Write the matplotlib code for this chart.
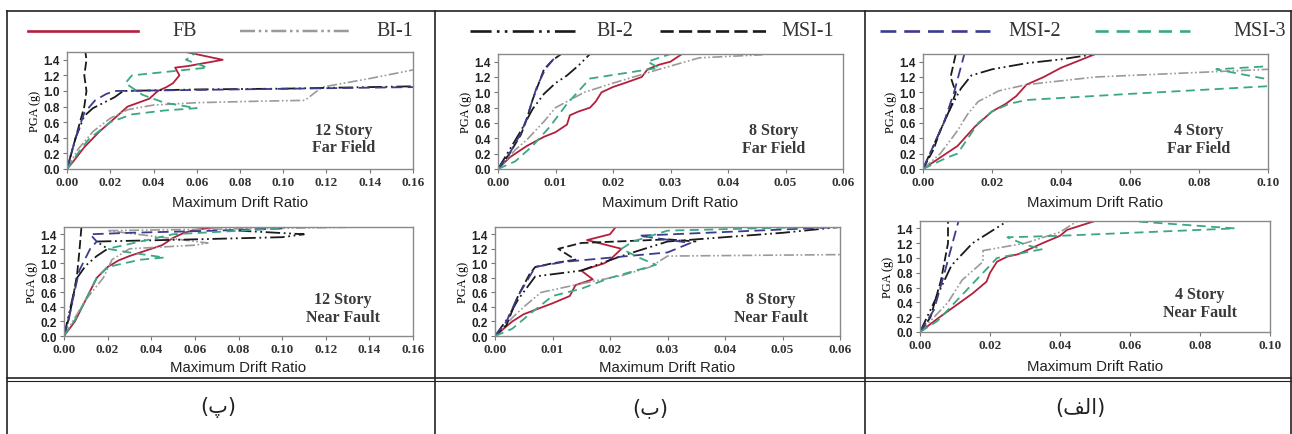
import matplotlib
matplotlib.use("Agg")
import matplotlib.pyplot as plt
from matplotlib.lines import Line2D

# series order and legend labels
series = ["FB", "BI-1", "BI-2", "MSI-1", "MSI-2", "MSI-3"]
pga_ticks = [0.0, 0.2, 0.4, 0.6, 0.8, 1.0, 1.2, 1.4]

# ---- 12 story, far field (drift, PGA) ----
ff12 = {
    "FB": ([0, 0.003, 0.008, 0.015, 0.022, 0.028, 0.033, 0.038, 0.042, 0.046, 0.049, 0.052, 0.05, 0.056, 0.072, 0.055],
           [0, 0.1, 0.28, 0.48, 0.65, 0.8, 0.85, 0.9, 1.0, 1.05, 1.1, 1.2, 1.3, 1.32, 1.4, 1.5]),
    "BI-1": ([0, 0.005, 0.012, 0.02, 0.028, 0.04, 0.06, 0.09, 0.11, 0.118, 0.14, 0.16],
             [0, 0.25, 0.48, 0.65, 0.76, 0.82, 0.85, 0.87, 0.88, 1.05, 1.16, 1.27]),
    "BI-2": ([0, 0.004, 0.008, 0.012, 0.017, 0.022, 0.026, 0.06, 0.1, 0.16],
             [0, 0.4, 0.68, 0.78, 0.85, 0.92, 1.0, 1.02, 1.03, 1.06]),
    "MSI-1": ([0, 0.004, 0.006, 0.008, 0.009, 0.008, 0.0085, 0.009, 0.0085],
              [0, 0.4, 0.6, 0.8, 1.0, 1.2, 1.3, 1.4, 1.5]),
    "MSI-2": ([0, 0.004, 0.008, 0.013, 0.018, 0.022, 0.16],
              [0, 0.4, 0.72, 0.88, 0.96, 1.0, 1.05]),
    "MSI-3": ([0, 0.005, 0.01, 0.02, 0.03, 0.045, 0.06, 0.045, 0.035, 0.027, 0.03, 0.065, 0.055, 0.06],
              [0, 0.2, 0.38, 0.6, 0.7, 0.75, 0.78, 0.85, 0.95, 1.1, 1.2, 1.3, 1.4, 1.5]),
}

# ---- 8 story, far field ----
ff8 = {
    "FB": ([0, 0.002, 0.005, 0.008, 0.01, 0.012, 0.0125, 0.014, 0.016, 0.017, 0.018, 0.02, 0.022, 0.025, 0.026, 0.028, 0.03, 0.032],
           [0, 0.15, 0.3, 0.42, 0.48, 0.58, 0.7, 0.75, 0.8, 0.88, 1.0, 1.07, 1.12, 1.2, 1.3, 1.36, 1.4, 1.5]),
    "BI-1": ([0, 0.003, 0.005, 0.008, 0.01, 0.015, 0.02, 0.028, 0.035, 0.046],
             [0, 0.25, 0.38, 0.62, 0.8, 1.0, 1.12, 1.3, 1.45, 1.49]),
    "BI-2": ([0, 0.002, 0.004, 0.006, 0.008, 0.01, 0.012, 0.014, 0.016],
             [0, 0.25, 0.5, 0.78, 0.98, 1.12, 1.22, 1.35, 1.5]),
    "MSI-1": ([0, 0.002, 0.004, 0.005, 0.006, 0.007, 0.008, 0.0095, 0.011],
              [0, 0.2, 0.45, 0.65, 0.9, 1.1, 1.3, 1.42, 1.5]),
    "MSI-2": ([0, 0.002, 0.004, 0.005, 0.006, 0.0068, 0.0082, 0.0095, 0.0105],
              [0, 0.2, 0.47, 0.66, 0.9, 1.08, 1.3, 1.42, 1.5]),
    "MSI-3": ([0, 0.003, 0.006, 0.009, 0.012, 0.016, 0.022, 0.028, 0.026, 0.03],
              [0, 0.1, 0.3, 0.55, 0.85, 1.18, 1.25, 1.32, 1.4, 1.5]),
}

# ---- 4 story, far field ----
ff4 = {
    "FB": ([0, 0.005, 0.01, 0.015, 0.02, 0.024, 0.027, 0.03, 0.035, 0.04, 0.045, 0.05],
           [0, 0.15, 0.3, 0.55, 0.75, 0.85, 0.95, 1.1, 1.2, 1.32, 1.41, 1.5]),
    "BI-1": ([0, 0.005, 0.01, 0.013, 0.016, 0.022, 0.03, 0.05, 0.07, 0.085, 0.1],
             [0, 0.2, 0.5, 0.72, 0.88, 1.02, 1.1, 1.2, 1.24, 1.27, 1.3]),
    "BI-2": ([0, 0.004, 0.008, 0.011, 0.014, 0.02, 0.03, 0.04, 0.05],
             [0, 0.4, 0.8, 1.05, 1.22, 1.3, 1.38, 1.43, 1.5]),
    "MSI-1": ([0, 0.003, 0.005, 0.008, 0.0095, 0.008, 0.009, 0.0095],
              [0, 0.25, 0.5, 0.8, 1.0, 1.2, 1.4, 1.5]),
    "MSI-2": ([0, 0.003, 0.006, 0.009, 0.0105, 0.012],
              [0, 0.3, 0.6, 1.0, 1.25, 1.5]),
    "MSI-3": ([0, 0.007, 0.01, 0.013, 0.016, 0.02, 0.025, 0.03, 0.06, 0.1, 0.2, 0.1, 0.085, 0.1],
              [0, 0.15, 0.2, 0.4, 0.6, 0.75, 0.85, 0.9, 0.98, 1.08, 1.15, 1.17, 1.3, 1.34]),
}

# ---- 12 story, near fault ----
nf12 = {
    "FB": ([0, 0.005, 0.01, 0.015, 0.02, 0.025, 0.03, 0.038, 0.045, 0.05, 0.055, 0.06, 0.07],
           [0, 0.2, 0.5, 0.8, 0.95, 1.04, 1.1, 1.18, 1.25, 1.35, 1.42, 1.46, 1.5]),
    "BI-1": ([0, 0.005, 0.01, 0.018, 0.022, 0.03, 0.06, 0.066, 0.02, 0.14],
             [0, 0.25, 0.5, 0.8, 1.05, 1.2, 1.25, 1.28, 1.45, 1.5]),
    "BI-2": ([0, 0.003, 0.006, 0.01, 0.015, 0.02, 0.015, 0.06, 0.1, 0.11, 0.08],
             [0, 0.4, 0.8, 0.97, 1.1, 1.2, 1.3, 1.33, 1.36, 1.4, 1.45]),
    "MSI-1": ([0, 0.002, 0.004, 0.006, 0.007, 0.008],
              [0, 0.22, 0.5, 0.85, 1.15, 1.5]),
    "MSI-2": ([0, 0.002, 0.004, 0.007, 0.01, 0.012, 0.015, 0.012, 0.03, 0.07, 0.1],
              [0, 0.2, 0.5, 0.9, 1.08, 1.2, 1.3, 1.4, 1.42, 1.45, 1.48]),
    "MSI-3": ([0, 0.005, 0.01, 0.015, 0.02, 0.035, 0.046, 0.03, 0.02, 0.05, 0.1],
              [0, 0.22, 0.5, 0.8, 0.95, 1.05, 1.08, 1.15, 1.2, 1.4, 1.48]),
}

# ---- 8 story, near fault ----
nf8 = {
    "FB": ([0, 0.003, 0.005, 0.008, 0.01, 0.013, 0.014, 0.017, 0.015, 0.019, 0.02, 0.022, 0.016, 0.02, 0.021],
           [0, 0.2, 0.3, 0.39, 0.45, 0.55, 0.7, 0.78, 0.9, 1.0, 1.05, 1.2, 1.32, 1.4, 1.5]),
    "BI-1": ([0, 0.003, 0.005, 0.008, 0.015, 0.022, 0.027, 0.028, 0.03, 0.06],
             [0, 0.25, 0.4, 0.6, 0.72, 0.83, 0.95, 1.0, 1.1, 1.12]),
    "BI-2": ([0, 0.002, 0.004, 0.007, 0.015, 0.022, 0.03, 0.05, 0.06],
             [0, 0.22, 0.5, 0.82, 0.9, 1.1, 1.3, 1.42, 1.5]),
    "MSI-1": ([0, 0.002, 0.004, 0.006, 0.007, 0.01, 0.014, 0.011, 0.015, 0.03, 0.035],
              [0, 0.15, 0.55, 0.85, 0.95, 1.0, 1.05, 1.2, 1.28, 1.33, 1.3]),
    "MSI-2": ([0, 0.002, 0.004, 0.007, 0.012, 0.03, 0.034, 0.025, 0.06],
              [0, 0.2, 0.55, 0.95, 1.02, 1.15, 1.28, 1.38, 1.5]),
    "MSI-3": ([0, 0.003, 0.006, 0.01, 0.015, 0.02, 0.028, 0.025, 0.022, 0.024, 0.03, 0.055],
              [0, 0.1, 0.3, 0.55, 0.65, 0.8, 0.98, 1.08, 1.2, 1.3, 1.45, 1.5]),
}

# ---- 4 story, near fault ----
nf4 = {
    "FB": ([0, 0.005, 0.01, 0.015, 0.017, 0.019, 0.02, 0.022, 0.025, 0.028, 0.035, 0.04, 0.042, 0.05],
           [0, 0.18, 0.35, 0.52, 0.6, 0.68, 0.8, 0.95, 1.02, 1.05, 1.2, 1.3, 1.38, 1.5]),
    "BI-1": ([0, 0.004, 0.008, 0.012, 0.018, 0.018, 0.03, 0.04, 0.045],
             [0, 0.2, 0.4, 0.7, 0.95, 1.1, 1.2, 1.35, 1.5]),
    "BI-2": ([0, 0.003, 0.005, 0.009, 0.015, 0.02, 0.025],
             [0, 0.3, 0.5, 0.9, 1.2, 1.35, 1.5]),
    "MSI-1": ([0, 0.003, 0.006, 0.008, 0.008],
              [0, 0.2, 0.7, 1.2, 1.5]),
    "MSI-2": ([0, 0.004, 0.007, 0.009, 0.011],
              [0, 0.3, 0.8, 1.15, 1.5]),
    "MSI-3": ([0, 0.005, 0.01, 0.018, 0.022, 0.035, 0.03, 0.025, 0.04, 0.09, 0.06],
              [0, 0.15, 0.4, 0.8, 1.0, 1.12, 1.18, 1.28, 1.3, 1.4, 1.5]),
}

styles = {
    "FB": dict(color="#b3203c", linestyle="-", lw=1.3),
    "BI-1": dict(color="#9a9a9a", linestyle=(0, (6, 1.5, 1, 1.5, 1, 1.5)), lw=1.2),
    "BI-2": dict(color="#1a1a1a", linestyle=(0, (8, 2, 1, 2, 1, 2)), lw=1.3),
    "MSI-1": dict(color="#1a1a1a", linestyle=(0, (5, 2)), lw=1.3),
    "MSI-2": dict(color="#3c3c8c", linestyle=(0, (6, 3)), lw=1.3),
    "MSI-3": dict(color="#3aa882", linestyle=(0, (5, 3)), lw=1.3),
}

W, H = 1292, 435
fig = plt.figure(figsize=(W / 100, H / 100), dpi=100)


def px_axes(x0, x1, y0, y1):
    return fig.add_axes([x0 / W, 1 - y1 / H, (x1 - x0) / W, (y1 - y0) / H])


panels = [
    (ff12, (67, 413, 53, 170), 0.16, [0, 0.02, 0.04, 0.06, 0.08, 0.10, 0.12, 0.14, 0.16], "12 Story\nFar Field", 5),
    (ff8, (498, 843, 55, 170), 0.06, [0, 0.01, 0.02, 0.03, 0.04, 0.05, 0.06], "8 Story\nFar Field", 5),
    (ff4, (923, 1268, 55, 170), 0.10, [0, 0.02, 0.04, 0.06, 0.08, 0.10], "4 Story\nFar Field", 5),
    (nf12, (64, 413, 228, 337), 0.16, [0, 0.02, 0.04, 0.06, 0.08, 0.10, 0.12, 0.14, 0.16], "12 Story\nNear Fault", 4),
    (nf8, (495, 840, 228, 337), 0.06, [0, 0.01, 0.02, 0.03, 0.04, 0.05, 0.06], "8 Story\nNear Fault", 4),
    (nf4, (920, 1270, 222, 333), 0.10, [0, 0.02, 0.04, 0.06, 0.08, 0.10], "4 Story\nNear Fault", 6),
]

for data, box, xmax, xt, note, lpad in panels:
    ax = px_axes(*box)
    for name in series:
        xs, ys = data[name]
        ax.plot(xs, ys, **styles[name])
    ax.set_xlim(0, xmax)
    ax.set_ylim(0, 1.5)
    ax.set_xticks(xt)
    ax.set_xticklabels([f"{v:.2f}" for v in xt], family="Liberation Serif",
                       fontweight="bold", fontsize=9.5, color="#333333")
    ax.set_yticks(pga_ticks)
    ax.set_yticklabels([f"{v:.1f}" for v in pga_ticks], family="Liberation Sans",
                       fontweight="bold", fontsize=8.5, color="#222222")
    ax.tick_params(length=3, width=0.8, color="#777777", pad=2)
    for s in ax.spines.values():
        s.set_color("#8a8a8a")
        s.set_linewidth(1.0)
    ax.set_xlabel("Maximum Drift Ratio", family="Liberation Sans", fontsize=10.8,
                  labelpad=lpad, color="#222222")
    ax.set_ylabel("PGA (g)", family="Liberation Serif", fontsize=8.8, labelpad=2)
    ax.text(0.8, 0.26, note, transform=ax.transAxes, ha="center", va="center",
            family="Liberation Serif", fontweight="bold", fontsize=11.5,
            linespacing=1.15, color="#3a3a3a")

# table frame
frame = dict(color="#222222", lw=1.2)
for x in (7, 435, 865, 1291):
    fig.add_artist(Line2D([x / W, x / W], [1 - 12 / H, 0], transform=fig.transFigure, **frame))
fig.add_artist(Line2D([7 / W, 1291 / W], [1 - 12 / H] * 2, transform=fig.transFigure, **frame))
fig.add_artist(Line2D([7 / W, 1291 / W], [1 - 379 / H] * 2, transform=fig.transFigure, **frame))
fig.add_artist(Line2D([7 / W, 1291 / W], [1 - 382 / H] * 2, transform=fig.transFigure,
                      color="#222222", lw=0.8))

# legend row
legend_pos = {
    "FB": (28, 138, 185), "BI-1": (240, 350, 395), "BI-2": (470, 575, 615),
    "MSI-1": (660, 770, 808), "MSI-2": (880, 990, 1035), "MSI-3": (1095, 1190, 1260),
}
ly = 1 - 32 / H
for name in series:
    a, b, t = legend_pos[name]
    st = dict(styles[name])
    st["lw"] = st["lw"] + 0.6
    fig.add_artist(Line2D([a / W, b / W], [ly, ly], transform=fig.transFigure, **st))
    fig.text(t / W, ly, name, ha="center", va="center", family="Liberation Serif",
             fontsize=14.5, color="#333333")

# column captions (Persian letters, drawn in visual order)
captions = [(218, "(\u067e)"), (650, "(\u0628)"), (1080, "(\ufed2\ufedf\ufe8d)")]
for x, s in captions:
    fig.text(x / W, 1 - 408 / H, s, ha="center", va="center", family="DejaVu Sans",
             fontsize=15, color="#222222")

fig.savefig("out.png", dpi=100)
